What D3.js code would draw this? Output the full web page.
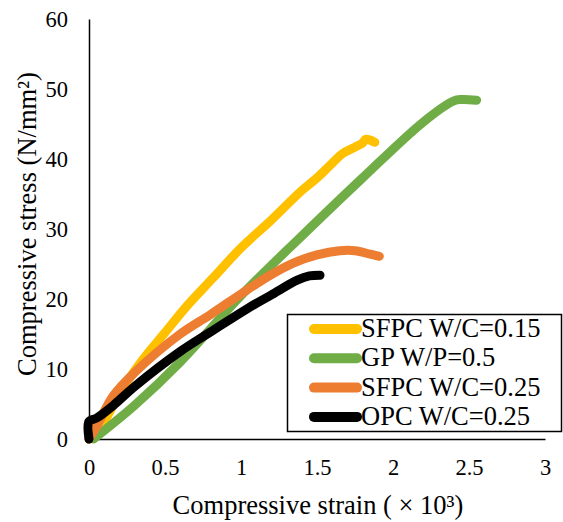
<!DOCTYPE html>
<html>
<head>
<meta charset="utf-8">
<script src="https://cdn.jsdelivr.net/npm/d3@7"></script>
</head>
<body style="margin:0">
<script>
// series: [strain (x10^3), stress (N/mm2)]
const sfpc015 = [[0,0],[0.1,2.5],[0.2,6.5],[0.36,11.5],[0.5,15.2],[0.64,18.9],[0.82,23.1],[1.0,27.3],[1.2,31.3],[1.4,35.5],[1.5,37.3],[1.6,39.4],[1.67,40.8],[1.75,41.7],[1.8,42.3],[1.82,42.8],[1.88,42.4]];
const gp05 = [[0.03,0],[0.3,4.8],[0.6,11],[1.0,20.5],[1.4,29],[1.8,37.3],[2.2,45.3],[2.4,48.3],[2.45,48.5],[2.55,48.4]];
const sfpc025 = [[0,0],[0.05,1.8],[0.16,6.2],[0.3,9.5],[0.6,15],[0.8,17.8],[1.04,21.3],[1.2,23.5],[1.34,25.1],[1.5,26.3],[1.65,26.9],[1.75,26.9],[1.85,26.4],[1.91,26.1]];
const opc025 = [[0,0],[0,2.5],[0.05,3],[0.16,4.8],[0.3,7.5],[0.6,12.5],[0.8,15.3],[1.04,18.6],[1.2,20.6],[1.37,22.7],[1.45,23.3],[1.52,23.4]];

const seriesNames = ["SFPC W/C=0.15", "GP W/P=0.5", "SFPC W/C=0.25", "OPC W/C=0.25"];
const seriesColors = ["#FFC000", "#70AD47", "#ED7D31", "#000000"];
const seriesData = [sfpc015, gp05, sfpc025, opc025];

const xTicks = [0, 0.5, 1, 1.5, 2, 2.5, 3];
const yTicks = [0, 10, 20, 30, 40, 50, 60];

const width = 563, height = 522;
const margin = { top: 19, right: 18, bottom: 83, left: 89 };
const fontName = "Liberation Serif";

const svg = d3.select("body").append("svg")
  .attr("width", width).attr("height", height);

const x = d3.scaleLinear().domain([0, 3]).range([margin.left, width - margin.right]);
const y = d3.scaleLinear().domain([0, 60]).range([height - margin.bottom, margin.top]);

// axes
svg.append("g")
  .attr("transform", `translate(0,${y(0)})`)
  .call(d3.axisBottom(x).tickValues(xTicks).tickSize(0).tickPadding(20).tickFormat(d => d))
  .call(g => g.select(".domain").attr("stroke", "#000").attr("stroke-width", 1.5))
  .call(g => g.selectAll("text").attr("fill", "#000"));

svg.append("g")
  .attr("transform", `translate(${x(0)},0)`)
  .call(d3.axisLeft(y).tickValues(yTicks).tickSize(0).tickPadding(21))
  .call(g => g.select(".domain").attr("stroke", "#000").attr("stroke-width", 1.5))
  .call(g => g.selectAll("text").attr("fill", "#000"));

// lines
const line = d3.line().x(d => x(d[0])).y(d => y(d[1])).curve(d3.curveCatmullRom.alpha(0.5));
seriesData.forEach((data, i) => {
  svg.append("path")
    .attr("d", line(data))
    .attr("fill", "none")
    .attr("stroke", seriesColors[i])
    .attr("stroke-width", 9)
    .attr("stroke-linecap", "round")
    .attr("stroke-linejoin", "round");
});

// axis titles
svg.append("text")
  .attr("x", 318).attr("y", 514)
  .attr("text-anchor", "middle")
  .attr("font-size", 26.5)
  .text("Compressive strain ( × 10³)");

svg.append("text")
  .attr("transform", "translate(36,224) rotate(-90)")
  .attr("text-anchor", "middle")
  .attr("font-size", 26.5)
  .text("Compressive stress (N/mm²)");

// legend
const legend = svg.append("g");
legend.append("rect")
  .attr("x", 287.5).attr("y", 314.5).attr("width", 274).attr("height", 117)
  .attr("fill", "#fff").attr("stroke", "#000").attr("stroke-width", 1.5);

seriesNames.forEach((name, i) => {
  const ly = 329 + i * 29.3;
  legend.append("line")
    .attr("x1", 314).attr("x2", 357).attr("y1", ly).attr("y2", ly)
    .attr("stroke", seriesColors[i]).attr("stroke-width", 10).attr("stroke-linecap", "round");
  legend.append("text")
    .attr("x", 361).attr("y", ly + 8)
    .attr("font-size", 26.5)
    .text(name);
});

// one font for every text
svg.selectAll("g").attr("font-family", fontName);
svg.selectAll("text").attr("font-family", fontName);
svg.selectAll(".tick text").attr("font-size", 22.5);
</script>
</body>
</html>
